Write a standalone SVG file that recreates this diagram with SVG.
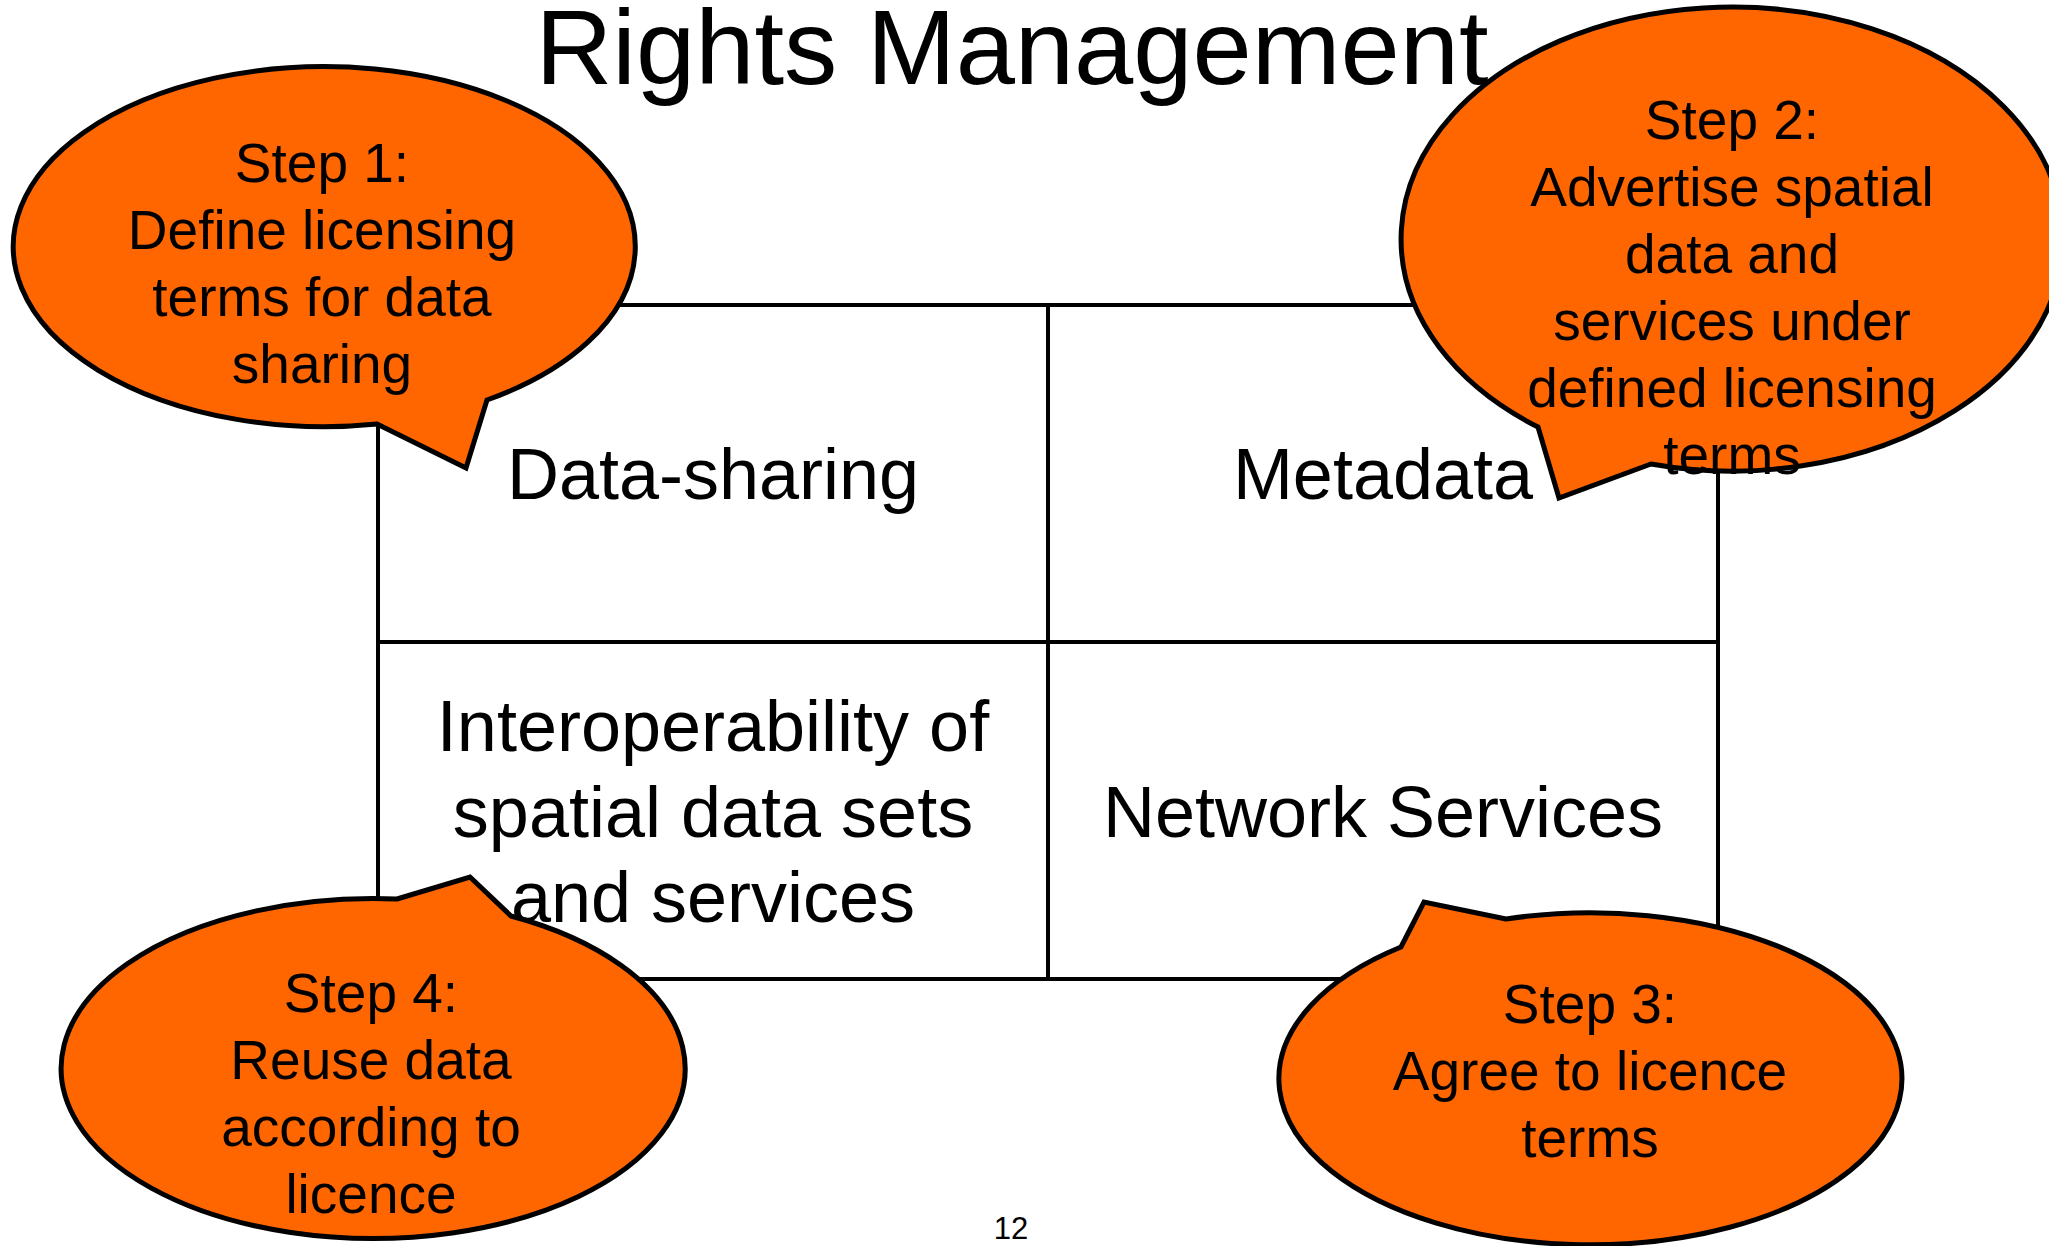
<svg xmlns="http://www.w3.org/2000/svg" width="2049" height="1246" viewBox="0 0 2049 1246">
<style>
  .t { font-family: "Liberation Sans", Arial, sans-serif; fill: #000; text-anchor: middle; }
  .title { font-size: 106.5px; }
  .cell { font-size: 72px; }
  .co { font-size: 55px; }
  .grid { stroke: #000; stroke-width: 4; fill: none; stroke-linecap: square; }
  .bubble { fill: #FF6600; stroke: #000; stroke-width: 5; stroke-linejoin: miter; }
</style>
<rect x="0" y="0" width="2049" height="1246" fill="#fff"/>
<text class="t title" x="1012" y="84">Rights Management</text>

<g id="connectors">
  <rect class="grid" x="378" y="305" width="1340" height="674"/>
  <line class="grid" x1="1048" y1="305" x2="1048" y2="979"/>
  <line class="grid" x1="378" y1="642" x2="1718" y2="642"/>
</g>

<g id="cell-data-sharing">
  <text class="t cell" x="713" y="499">Data-sharing</text>
</g>
<g id="cell-metadata">
  <text class="t cell" x="1383" y="499">Metadata</text>
</g>
<g id="cell-interoperability">
  <text class="t cell" x="713" y="751">Interoperability of</text>
  <text class="t cell" x="713" y="837">spatial data sets</text>
  <text class="t cell" x="713" y="922">and services</text>
</g>
<g id="cell-network-services">
  <text class="t cell" x="1383" y="837">Network Services</text>
</g>

<g id="step1">
  <path class="bubble" d="M 377,424 L 466,468 L 487,400 A 311 180 0 1 0 377,424 Z"/>
  <text class="t co" x="322" y="182">Step 1:</text>
  <text class="t co" x="322" y="249">Define licensing</text>
  <text class="t co" x="322" y="316">terms for data</text>
  <text class="t co" x="322" y="383">sharing</text>
</g>

<g id="step2">
  <path class="bubble" d="M 1538,427 L 1559,498 L 1651,464 A 331 232 0 1 0 1538,427 Z"/>
  <text class="t co" x="1732" y="139">Step 2:</text>
  <text class="t co" x="1732" y="206">Advertise spatial</text>
  <text class="t co" x="1732" y="273">data and</text>
  <text class="t co" x="1732" y="340">services under</text>
  <text class="t co" x="1732" y="407">defined licensing</text>
  <text class="t co" x="1732" y="474">terms</text>
</g>

<g id="step3">
  <path class="bubble" d="M 1506,919 L 1424,902 L 1401,947 A 311.5 166 0 1 0 1506,919 Z"/>
  <text class="t co" x="1590" y="1023">Step 3:</text>
  <text class="t co" x="1590" y="1090">Agree to licence</text>
  <text class="t co" x="1590" y="1157">terms</text>
</g>

<g id="step4">
  <path class="bubble" d="M 397,899 L 470,877 L 511,916 A 312 170 0 1 1 397,899 Z"/>
  <text class="t co" x="371" y="1012">Step 4:</text>
  <text class="t co" x="371" y="1079">Reuse data</text>
  <text class="t co" x="371" y="1146">according to</text>
  <text class="t co" x="371" y="1213">licence</text>
</g>

<text class="t" x="1011" y="1239" font-size="31">12</text>
</svg>
